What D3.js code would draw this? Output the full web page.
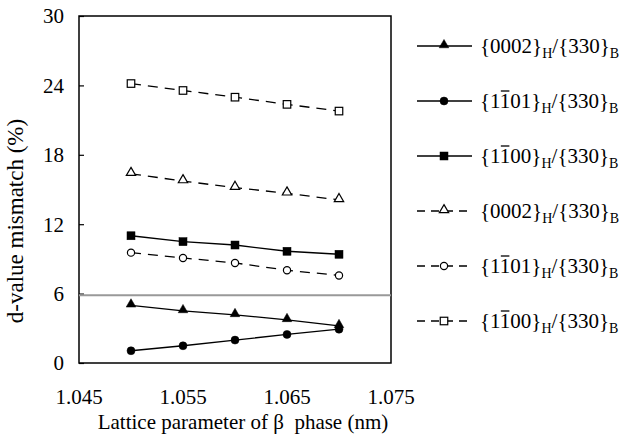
<!DOCTYPE html>
<html>
<head>
<meta charset="utf-8">
<script src="https://cdn.jsdelivr.net/npm/d3@7"></script>
<style>
  body { margin: 0; background: #fff; }
</style>
</head>
<body>
<div id="chart"></div>
<script>
// lattice parameter of beta phase (nm)
const latticeParams = [1.050, 1.055, 1.060, 1.065, 1.070];

// d-value mismatch (%) for each pair
const solid0002 = [4.99, 4.50, 4.16, 3.73, 3.21];
const solid1101 = [1.06, 1.49, 1.98, 2.47, 2.92];
const solid1100 = [11.0, 10.49, 10.2, 9.66, 9.4];
const dashed0002 = [16.36, 15.73, 15.16, 14.67, 14.1];
const dashed1101 = [9.54, 9.08, 8.65, 8.02, 7.57];
const dashed1100 = [24.16, 23.56, 22.98, 22.36, 21.78];

const yTicks = [0, 6, 12, 18, 24, 30];
const xTicks = [1.045, 1.055, 1.065, 1.075];
const thresholdLine = 5.85;

const seriesList = [
  { values: solid0002, plane: "0002", bar: false, shape: "triangle", filled: true, dashed: false },
  { values: solid1101, plane: "1101", bar: true, shape: "circle", filled: true, dashed: false },
  { values: solid1100, plane: "1100", bar: true, shape: "square", filled: true, dashed: false },
  { values: dashed0002, plane: "0002", bar: false, shape: "triangle", filled: false, dashed: true },
  { values: dashed1101, plane: "1101", bar: true, shape: "circle", filled: false, dashed: true },
  { values: dashed1100, plane: "1100", bar: true, shape: "square", filled: false, dashed: true }
];

const width = 624, height = 440;
const margin = { top: 16, right: 233, bottom: 77, left: 79 };
const innerW = width - margin.left - margin.right;
const innerH = height - margin.top - margin.bottom;
const serif = "Liberation Serif";

const svg = d3.select("#chart").append("svg")
  .attr("width", width)
  .attr("height", height);

const x = d3.scaleLinear().domain([1.045, 1.075]).range([margin.left, margin.left + innerW]);
const y = d3.scaleLinear().domain([0, 30]).range([margin.top + innerH, margin.top]);

// frame
svg.append("rect")
  .attr("x", margin.left).attr("y", margin.top)
  .attr("width", innerW).attr("height", innerH)
  .attr("fill", "none").attr("stroke", "#000").attr("stroke-width", 1.5);

// y axis ticks (inward)
const yAxis = d3.axisRight(y).tickValues(yTicks).tickSize(5).tickFormat("");
svg.append("g").attr("transform", "translate(" + margin.left + ",0)")
  .call(yAxis)
  .call(g => g.select(".domain").remove())
  .call(g => g.selectAll("text").remove())
  .call(g => g.selectAll("line").attr("stroke-width", 1.2));

svg.selectAll(".ylab").data(yTicks).enter().append("text")
  .attr("class", "ylab")
  .attr("x", 64).attr("y", d => y(d))
  .attr("dy", "0.35em").attr("text-anchor", "end")
  .attr("font-size", 21)
  .text(d => d);

svg.selectAll(".xlab").data(xTicks).enter().append("text")
  .attr("class", "xlab")
  .attr("x", d => x(d)).attr("y", 397)
  .attr("dy", "0.35em").attr("text-anchor", "middle")
  .attr("font-size", 21)
  .text(d => d3.format(".3f")(d));

// axis titles
svg.append("text")
  .attr("x", 243).attr("y", 429)
  .attr("text-anchor", "middle").attr("font-size", 21)
  .style("white-space", "pre")
  .text("Lattice parameter of \u03b2  phase (nm)");

svg.append("text")
  .attr("transform", "translate(23,221) rotate(-90)")
  .attr("text-anchor", "middle").attr("font-size", 23)
  .text("d-value mismatch (%)");

// threshold line
svg.append("line")
  .attr("x1", margin.left).attr("x2", margin.left + innerW)
  .attr("y1", y(thresholdLine)).attr("y2", y(thresholdLine))
  .attr("stroke", "#999").attr("stroke-width", 2);

const line = d3.line().x((d, i) => x(latticeParams[i])).y(d => y(d));

function drawMarker(g, shape, filled, cx, cy) {
  const fill = filled ? "#000" : "#fff";
  if (shape === "triangle") {
    g.append("path")
      .attr("d", d3.symbol().type(d3.symbolTriangle).size(filled ? 40 : 38)())
      .attr("transform", "translate(" + cx + "," + (cy - 1) + ")")
      .attr("fill", fill).attr("stroke", "#000").attr("stroke-width", filled ? 0.5 : 1.2);
  } else if (shape === "circle") {
    g.append("circle").attr("cx", cx).attr("cy", cy).attr("r", filled ? 4 : 3.6)
      .attr("fill", fill).attr("stroke", "#000").attr("stroke-width", filled ? 0.5 : 1.2);
  } else {
    const s = filled ? 8 : 7.5;
    g.append("rect").attr("x", cx - s / 2).attr("y", cy - s / 2).attr("width", s).attr("height", s)
      .attr("fill", fill).attr("stroke", "#000").attr("stroke-width", filled ? 0.5 : 1.2);
  }
}

seriesList.forEach(s => {
  const g = svg.append("g");
  g.append("path")
    .attr("d", line(s.values))
    .attr("fill", "none").attr("stroke", "#000").attr("stroke-width", 1.3)
    .attr("stroke-dasharray", s.dashed ? "10,7" : null);
  s.values.forEach((v, i) => drawMarker(g, s.shape, s.filled, x(latticeParams[i]), y(v)));
});

// legend
const legendTop = 46, legendStep = 55;
const legendRows = [];
seriesList.forEach((s, i) => {
  const ly = legendTop + i * legendStep;
  const g = svg.append("g");
  g.append("line")
    .attr("x1", 417).attr("x2", 472).attr("y1", ly).attr("y2", ly)
    .attr("stroke", "#000").attr("stroke-width", 1.3)
    .attr("stroke-dasharray", s.dashed ? "8,6" : null);
  drawMarker(g, s.shape, s.filled, 444, ly);

  const t = g.append("text").attr("x", 480).attr("y", ly).attr("dy", "0.35em").attr("font-size", 21);
  t.append("tspan").text("{");
  if (s.bar) {
    t.append("tspan").text(s.plane[0]);
    t.append("tspan").text(s.plane[1]);
    t.append("tspan").text(s.plane.slice(2));
  } else {
    t.append("tspan").text(s.plane);
  }
  t.append("tspan").text("}");
  t.append("tspan").attr("font-size", 14).attr("dy", 5).text("H");
  t.append("tspan").attr("dy", -5).text("/{330}");
  t.append("tspan").attr("font-size", 14).attr("dy", 5).text("B");
  legendRows.push({ g: g, t: t, ly: ly, bar: s.bar });
});

// serif font set on every text element
svg.selectAll("text").style("font-family", serif);
svg.selectAll("tspan").style("font-family", serif);

// bar over the second digit of the index (after font is applied)
legendRows.filter(r => r.bar).forEach(r => {
  const n = r.t.node();
  const start = n.getStartPositionOfChar(2);
  const end = n.getEndPositionOfChar(2);
  r.g.append("line")
    .attr("x1", start.x + 1).attr("x2", end.x - 1)
    .attr("y1", r.ly - 10).attr("y2", r.ly - 10)
    .attr("stroke", "#000").attr("stroke-width", 1.3);
});
</script>
</body>
</html>
